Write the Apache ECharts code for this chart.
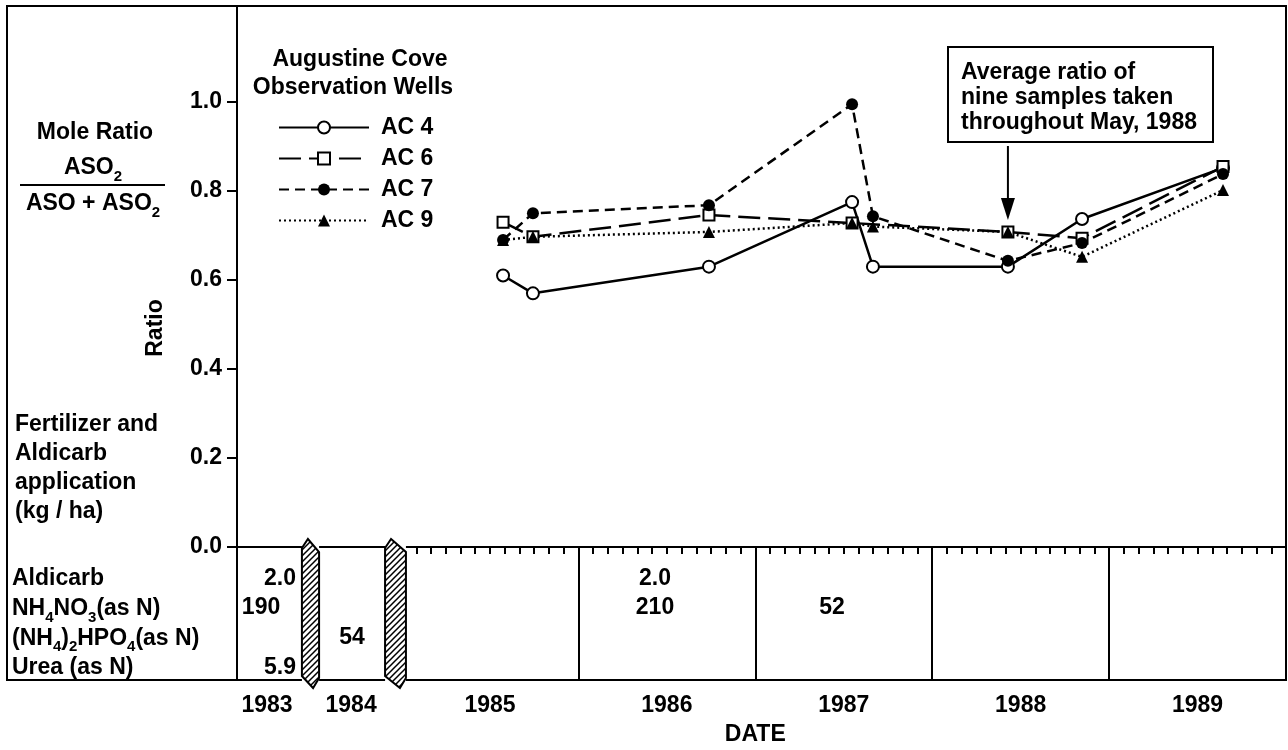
<!DOCTYPE html>
<html><head><meta charset="utf-8">
<script src="https://cdn.jsdelivr.net/npm/echarts@6/dist/echarts.min.js"></script>
<style>html,body{margin:0;padding:0;background:#fff}#c{width:1288px;height:750px}</style>
</head><body><div id="c"></div>
<script>
const FONT = '"Liberation Sans", Arial, Helvetica, sans-serif';
// Sample dates (decimal year) and mole ratios ASO2/(ASO+ASO2)
const ac4 = [[1985.574,0.61],[1985.743,0.57],[1986.738,0.63],[1987.547,0.775],[1987.665,0.63],[1988.428,0.63],[1988.847,0.737],[1989.644,0.852]];
const ac6 = [[1985.574,0.73],[1985.743,0.697],[1986.738,0.746],[1987.547,0.728],[1988.428,0.708],[1988.847,0.694],[1989.644,0.855]];
const ac7 = [[1985.574,0.69],[1985.743,0.75],[1986.738,0.768],[1987.547,0.995],[1987.665,0.743],[1988.428,0.643],[1988.847,0.683],[1989.644,0.838]];
const ac9 = [[1985.574,0.69],[1985.743,0.697],[1986.738,0.708],[1987.547,0.728],[1987.665,0.72],[1988.428,0.708],[1988.847,0.652],[1989.644,0.802]];
const wellNames = ['AC 4','AC 6','AC 7','AC 9'];
const yTickValues = [0,0.2,0.4,0.6,0.8,1.0];
const yearLabels = ['1983','1984','1985','1986','1987','1988','1989'];
const yearBoundaries = [1986,1987,1988,1989];
// Application table (kg/ha) : [year, value]
const tableRowNames = ['Aldicarb','NH4NO3(as N)','(NH4)2HPO4(as N)','Urea (as N)'];
const aldicarbApplied = [['1983','2.0'],['1986','2.0']];
const ammoniumNitrate = [['1983','190'],['1986','210'],['1987','52']];
const diammoniumPhosphate = [['1984','54']];
const ureaApplied = [['1983','5.9']];
const annotationText = ['Average ratio of','nine samples taken','throughout May, 1988'];
const annotatedDate = 1988.428;

// ---- layout (axis-unit anchors, not data) ----
const X_MIN = 1984.07, X_MAX = 1990;
const yearLabelPos = {'1983':1984.24,'1984':1984.715,'1985':1985.5,'1986':1986.5,'1987':1987.5,'1988':1988.5,'1989':1989.5};
const cellPos = {'1983':1984.313,'1984':1984.72,'1986':1986.433,'1987':1987.434};
const cellPosOverride = {'1-1983':1984.206};
const breaksAt = [[1984.437,1984.534],[1984.907,1985.025]];
const monthTicks = [];
for (let k = 0; k <= 60; k++) monthTicks.push(1985 + k/12);

const base = {fontFamily: FONT, fontWeight: 'bold', fontSize: 23, color: '#000'};
const subStyle = {fontFamily: FONT, fontWeight: 'bold', fontSize: 15, color: '#000', lineHeight: 16, padding: [13,0,0,0], verticalAlign: 'top'};
const mainStyle = Object.assign({}, base, {lineHeight: 26, verticalAlign: 'top'});
function richify(s){
  return s.replace(/([A-Z)])(\d)/g, '$1\u0000$2\u0001').split(/(\u0000\d\u0001)/).map(p=>{
    if (p.startsWith('\u0000')) return '{s|' + p.slice(1,-1) + '}';
    return p ? '{m|' + p + '}' : '';
  }).join('');
}
const rich = {m: mainStyle, s: subStyle};

const tableSets = [aldicarbApplied, ammoniumNitrate, diammoniumPhosphate, ureaApplied];
const tableData = [], tableTexts = [];
tableSets.forEach((set, r) => set.forEach(([yr, txt]) => {
  const key = r + '-' + yr;
  tableData.push([cellPosOverride[key] ?? cellPos[yr], r + 1]);
  tableTexts.push(txt);
}));

const lineCommon = {type: 'line', xAxisIndex: 0, yAxisIndex: 0, symbolSize: 12, z: 5};
const chart = echarts.init(document.getElementById('c'), null, {renderer: 'canvas'});
chart.setOption({
  backgroundColor: '#fff',
  animation: false,
  textStyle: {fontFamily: FONT},
  grid: [
    {left: 237, right: 2, top: 6, bottom: 203},
    {left: 237, right: 2, top: 547, bottom: 70}
  ],
  xAxis: [
    {type: 'value', gridIndex: 0, min: X_MIN, max: X_MAX, position: 'bottom',
     axisLine: {show: true, onZero: false, lineStyle: {color: '#000', width: 2}},
     axisTick: {show: false}, axisLabel: {show: false}, splitLine: {show: false}},
    {type: 'value', gridIndex: 1, min: X_MIN, max: X_MAX, position: 'top',
     axisLine: {show: true, onZero: false, lineStyle: {color: '#000', width: 2}},
     axisTick: {show: true, inside: true, length: 7, customValues: monthTicks, lineStyle: {color: '#000', width: 2}},
     axisLabel: {show: false}, splitLine: {show: false}},
    {type: 'value', gridIndex: 1, min: X_MIN, max: X_MAX, position: 'bottom',
     axisLine: {show: true, onZero: false, lineStyle: {color: '#000', width: 2}},
     axisTick: {show: false}, splitLine: {show: false},
     axisLabel: {show: true, margin: 14, customValues: yearLabels.map(y => yearLabelPos[y]),
       formatter: v => { let best = yearLabels[0], d = 1e9; yearLabels.forEach(y => { const e = Math.abs(yearLabelPos[y]-v); if (e < d) {d = e; best = y;} }); return best; },
       fontFamily: FONT, fontWeight: 'bold', fontSize: 23, color: '#000'}}
  ],
  yAxis: [
    {type: 'value', gridIndex: 0, min: 0, max: 1.2157,
     axisLine: {show: true, onZero: false, lineStyle: {color: '#000', width: 2}},
     axisTick: {show: true, length: 10, customValues: yTickValues, lineStyle: {color: '#000', width: 2}},
     axisLabel: {show: true, margin: 15, customValues: yTickValues, formatter: v => v.toFixed(1),
       fontFamily: FONT, fontWeight: 'bold', fontSize: 23, color: '#000'},
     splitLine: {show: false}},
    {type: 'value', gridIndex: 1, min: 0, max: 4.5, inverse: true,
     axisLine: {show: true, onZero: false, lineStyle: {color: '#000', width: 2}},
     axisTick: {show: false}, splitLine: {show: false},
     axisLabel: {show: true, align: 'left', margin: 225, customValues: [1,2,3,4], padding: [8,0,0,0],
       formatter: v => richify(tableRowNames[Math.round(v) - 1]), rich: rich}}
  ],
  legend: {
    show: true, orient: 'vertical', left: 278, top: 116, padding: 0, itemGap: 8,
    itemWidth: 90, itemHeight: 15,
    textStyle: {fontFamily: FONT, fontWeight: 'bold', fontSize: 23, color: '#000', padding: [0,0,0,7]},
    data: wellNames
  },
  series: [
    Object.assign({}, lineCommon, {name: wellNames[0], data: ac4, symbol: 'emptyCircle',
      lineStyle: {color: '#000', width: 2.5, type: 'solid'}, itemStyle: {color: '#000', borderWidth: 2}}),
    Object.assign({}, lineCommon, {name: wellNames[1], data: ac6, symbol: 'emptyRect', symbolSize: 11,
      lineStyle: {color: '#000', width: 2.5, type: [22, 8]}, itemStyle: {color: '#000', borderWidth: 2}}),
    Object.assign({}, lineCommon, {name: wellNames[2], data: ac7, symbol: 'circle',
      lineStyle: {color: '#000', width: 2.5, type: [10, 6]}, itemStyle: {color: '#000', borderWidth: 1}}),
    Object.assign({}, lineCommon, {name: wellNames[3], data: ac9, symbol: 'triangle',
      lineStyle: {color: '#000', width: 2.5, type: [2, 3]}, itemStyle: {color: '#000', borderWidth: 1}}),
    {type: 'custom', coordinateSystem: 'cartesian2d', xAxisIndex: 2, yAxisIndex: 1, data: tableData, silent: true,
     renderItem: (params, api) => {
       const p = api.coord([api.value(0), api.value(1)]);
       return {type: 'text', x: p[0], y: p[1] + 2, style: {text: tableTexts[params.dataIndex], fill: '#000',
         font: 'bold 23px ' + FONT, align: 'center', verticalAlign: 'middle'}};
     },
     markLine: {silent: true, symbol: 'none', label: {show: false},
       lineStyle: {color: '#000', width: 2, type: 'solid'},
       data: yearBoundaries.map(v => ({xAxis: v}))}}
  ]
});

// ---- decorations (frame, titles, breaks, annotation) ----
const px = (v, y) => chart.convertToPixel({xAxisIndex: 0, yAxisIndex: 0}, [v, y]);
const y0 = px(X_MIN, 0)[1];
const yB = chart.convertToPixel({xAxisIndex: 2, yAxisIndex: 1}, [X_MIN, 4.5])[1];
function hatch(){
  const c = document.createElement('canvas'); c.width = c.height = 6;
  const g = c.getContext('2d'); g.fillStyle = '#fff'; g.fillRect(0,0,6,6);
  g.strokeStyle = '#000'; g.lineWidth = 1.5; g.beginPath();
  g.moveTo(-1,7); g.lineTo(7,-1); g.moveTo(-1,1); g.lineTo(1,-1); g.moveTo(5,7); g.lineTo(7,5); g.stroke();
  return c;
}
const pat = {image: hatch(), repeat: 'repeat'};
const graphics = [];
graphics.push({type: 'rect', shape: {x: 7, y: 6, width: 1279, height: yB - 6}, style: {fill: null, stroke: '#000', lineWidth: 2}, z: 50});
breaksAt.forEach(([a, b]) => {
  const xl = px(a, 0)[0], xr = px(b, 0)[0];
  graphics.push({type: 'rect', shape: {x: xl, y: y0 - 3, width: xr - xl, height: 6}, style: {fill: '#fff'}, z: 60});
  graphics.push({type: 'rect', shape: {x: xl, y: yB - 3, width: xr - xl, height: 6}, style: {fill: '#fff'}, z: 60});
  graphics.push({type: 'polygon', shape: {points: [[xl, y0 + 1],[xl + 6, y0 - 8],[xr, y0 + 5],[xr, yB - 2],[xr - 6, yB + 8],[xl, yB - 4]]},
    style: {fill: pat, stroke: '#000', lineWidth: 2}, z: 61});
});
const T = (text, x, y, extra) => ({type: 'text', x, y, z: 70, style: Object.assign({text, fill: '#000', font: 'bold 23px ' + FONT, align: 'center', verticalAlign: 'middle'}, extra || {})});
graphics.push(T('Mole Ratio', 95, 133));
graphics.push(T('{m|ASO}{s|2}', 93, 169, {rich}));
graphics.push({type: 'line', shape: {x1: 20, y1: 185, x2: 165, y2: 185}, style: {stroke: '#000', lineWidth: 2}, z: 70});
graphics.push(T('{m|ASO + ASO}{s|2}', 93, 205, {rich}));
const ratioLabel = T('Ratio', 156, 328, {});
ratioLabel.rotation = Math.PI / 2;
graphics.push(ratioLabel);
['Fertilizer and','Aldicarb','application','(kg / ha)'].forEach((t, i) => graphics.push(T(t, 15, 425 + i * 29, {align: 'left'})));
graphics.push(T('Augustine Cove', 360, 60));
graphics.push(T('Observation Wells', 353, 88));
// DATE axis title centred under the 1986/1987 boundary
const dateX = px(1987, 0)[0];
graphics.push(T('DATE', dateX, 735));
// annotation box + arrow
graphics.push({type: 'rect', shape: {x: 948, y: 47, width: 265, height: 95}, style: {fill: '#fff', stroke: '#000', lineWidth: 2}, z: 70});
annotationText.forEach((t, i) => graphics.push(T(t, 961, 73 + i * 25, {align: 'left'})));
const ax = px(annotatedDate, 0)[0];
const tipY = px(annotatedDate, 0.735)[1];
graphics.push({type: 'line', shape: {x1: ax, y1: 146, x2: ax, y2: tipY - 18}, style: {stroke: '#000', lineWidth: 2}, z: 70});
graphics.push({type: 'polygon', shape: {points: [[ax, tipY], [ax - 7, tipY - 22], [ax + 7, tipY - 22]]}, style: {fill: '#000'}, z: 70});
chart.setOption({graphic: graphics});
</script></body></html>
